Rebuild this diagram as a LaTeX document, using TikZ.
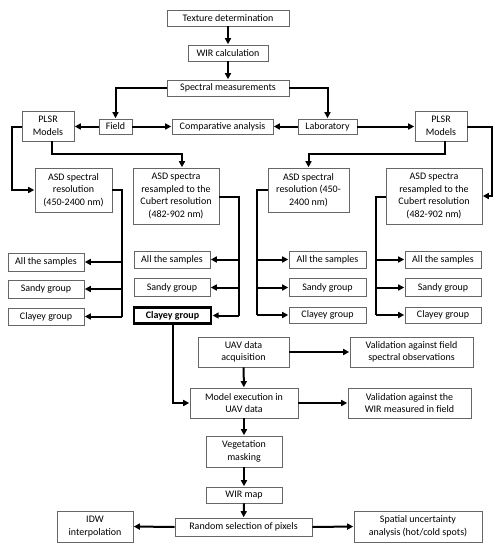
\documentclass[tikz,border=0pt]{standalone}
\usepackage{fontspec}
\setmainfont{Carlito}
\usetikzlibrary{arrows.meta,calc}
\begin{document}
\begin{tikzpicture}[x=1pt,y=-1pt,
  box/.style={draw=black!60, line width=0.8pt, fill=white, align=center, inner sep=1pt,
    font=\fontsize{10}{12.5}\selectfont},
  boldbox/.style={box, draw=black, line width=2.6pt, font=\fontsize{10}{12.5}\selectfont\bfseries},
  conn/.style={line width=2pt, black},
  arr/.style={conn, -{Triangle[length=6pt,width=6pt]}, shorten >=0.4pt}
]
\useasboundingbox (0,0) rectangle (504,550);
% top chain
\node[box, minimum width=122, minimum height=16] (tex) at (228,18) {Texture determination};
\node[box, minimum width=80, minimum height=16] (wir) at (228,53) {WIR calculation};
\node[box, minimum width=122, minimum height=16] (spec) at (228,88) {Spectral measurements};
\node[box, minimum width=33, minimum height=15] (field) at (115.5,126.5) {Field};
\node[box, minimum width=101, minimum height=15] (comp) at (222.5,126.5) {Comparative analysis};
\node[box, minimum width=59, minimum height=15] (lab) at (327.5,126.5) {Laboratory};
\node[box, minimum width=52, minimum height=30] (plsrL) at (48,126) {PLSR\\Models};
\node[box, minimum width=52, minimum height=30] (plsrR) at (441,126) {PLSR\\Models};
% second level
\node[box, minimum width=77, minimum height=44] (asdL) at (73.5,190) {ASD spectral\\resolution\\(450-2400 nm)};
\node[box, minimum width=86, minimum height=56] (resL) at (176,196) {ASD spectra\\resampled to the\\Cubert resolution\\(482-902 nm)};
\node[box, minimum width=81, minimum height=44] (asdR) at (308.5,190) {ASD spectral\\resolution (450-\\2400 nm)};
\node[box, minimum width=96, minimum height=56] (resR) at (434,196) {ASD spectra\\resampled to the\\Cubert resolution\\(482-902 nm)};
% groups
\node[box, minimum width=76, minimum height=18] (c1a) at (46,262) {All the samples};
\node[box, minimum width=76, minimum height=18] (c1s) at (46,289) {Sandy group};
\node[box, minimum width=76, minimum height=17] (c1c) at (46,316.5) {Clayey group};
\node[box, minimum width=76, minimum height=17] (c2a) at (172,259.5) {All the samples};
\node[box, minimum width=76, minimum height=18] (c2s) at (172,287.5) {Sandy group};
\node[boldbox, minimum width=77, minimum height=16] (c2c) at (172.5,315.5) {Clayey group};
\node[box, minimum width=77, minimum height=17] (c3a) at (327.5,259.5) {All the samples};
\node[box, minimum width=77, minimum height=18] (c3s) at (327.5,287.5) {Sandy group};
\node[box, minimum width=77, minimum height=16] (c3c) at (327.5,315) {Clayey group};
\node[box, minimum width=76, minimum height=17] (c4a) at (443,259.5) {All the samples};
\node[box, minimum width=76, minimum height=18] (c4s) at (443,287.5) {Sandy group};
\node[box, minimum width=76, minimum height=16] (c4c) at (443,315) {Clayey group};
% UAV part
\node[box, minimum width=91, minimum height=30] (uav) at (243.5,352) {UAV data\\acquisition};
\node[box, minimum width=123, minimum height=30] (val1) at (411.5,352) {Validation against field\\spectral observations};
\node[box, minimum width=108, minimum height=30] (model) at (244,403) {Model execution in\\UAV data};
\node[box, minimum width=123, minimum height=30] (val2) at (409.5,403) {Validation against the\\WIR measured in field};
\node[box, minimum width=76, minimum height=31] (veg) at (244,451.5) {Vegetation\\masking};
\node[box, minimum width=76, minimum height=16] (wmap) at (244,495) {WIR map};
\node[box, minimum width=137, minimum height=18] (rand) at (243.5,527) {Random selection of pixels};
\node[box, minimum width=76, minimum height=31] (idw) at (95,526.5) {IDW\\interpolation};
\node[box, minimum width=128, minimum height=31] (spat) at (418,526.5) {Spatial uncertainty\\analysis (hot/cold spots)};
% bus coordinates
\coordinate (b1) at (122,190);
\coordinate (b2) at (239,197);
\coordinate (b3) at (257,190);
\coordinate (b4) at (376,197);
% top connectors
\draw[arr] (tex) -- (wir);
\draw[arr] (wir) -- (spec);
\draw[arr] (spec.west) -| (field.north);
\draw[arr] (spec.east) -| (lab.north);
\draw[arr] (field.west) -- (plsrL.east |- field.west);
\draw[arr] (field.east) -- (comp.west);
\draw[arr] (lab.west) -- (comp.east);
\draw[arr] (lab.east) -- (plsrR.west |- lab.east);
\draw[arr] ([yshift=-1pt]plsrL.west) -- ++(-10,0) |- (asdL.west);
\draw[arr] ([xshift=4pt]plsrL.south) -- ++(0,13) -| ([xshift=6pt]resL.north);
\draw[arr] ([xshift=4pt]plsrR.south) -- ++(0,13) -| (asdR.north);
\draw[arr] ([yshift=-1pt]plsrR.east) -- ++(25,0) |- (resR.east);
% buses
\draw[conn] (asdL.east) -- (b1) -- (b1 |- c1c.east);
\foreach \n in {c1a,c1s,c1c} \draw[arr] (b1 |- \n.east) -- (\n.east);
\draw[conn] (resL.east |- b2) -- (b2) -- (b2 |- c2c.east);
\foreach \n in {c2a,c2s,c2c} \draw[arr] (b2 |- \n.east) -- (\n.east);
\draw[conn] (asdR.west) -- (b3) -- (b3 |- c3c.west);
\foreach \n in {c3a,c3s,c3c} \draw[arr] (b3 |- \n.west) -- (\n.west);
\draw[conn] (resR.west |- b4) -- (b4) -- (b4 |- c4c.west);
\foreach \n in {c4a,c4s,c4c} \draw[arr] (b4 |- \n.west) -- (\n.west);
% lower connectors
\draw[arr] (c2c.south) |- (model.west);
\draw[arr] (uav.east) -- (val1.west);
\draw[arr] (uav) -- (model);
\draw[arr] (model.east) -- (val2.west);
\draw[arr] (model) -- (veg);
\draw[arr] (veg) -- (wmap);
\draw[arr] (wmap) -- (rand);
\draw[arr] (rand.west) -- (idw.east);
\draw[arr] (rand.east) -- (spat.west);
\end{tikzpicture}
\end{document}
